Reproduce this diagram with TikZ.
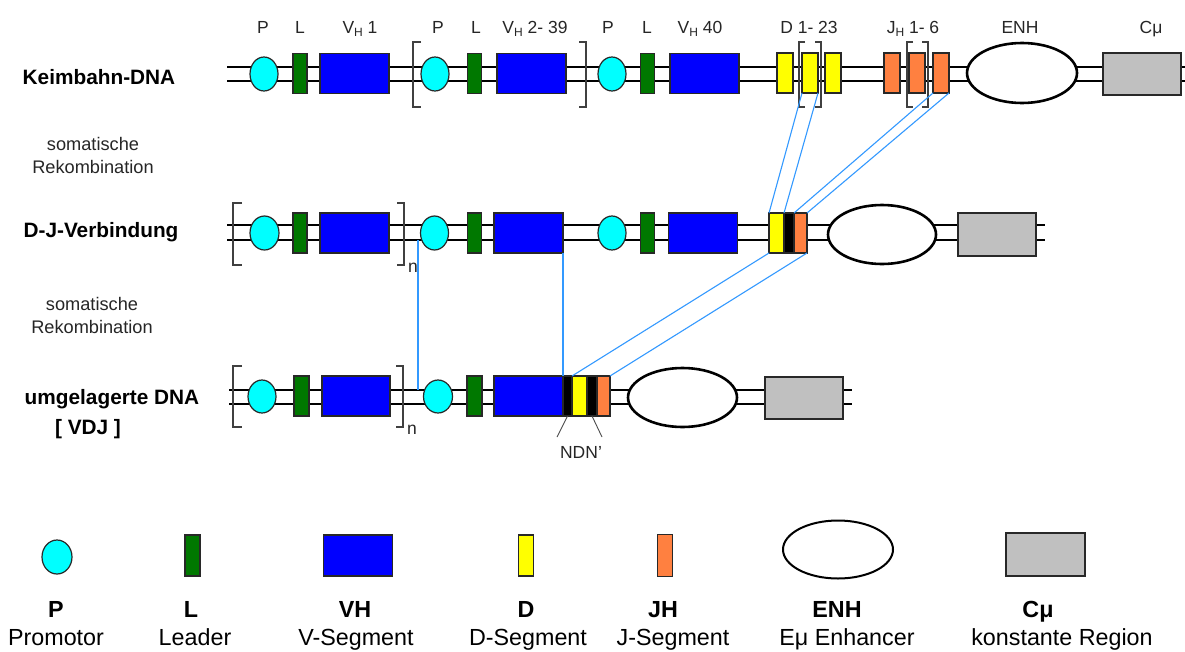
\documentclass[tikz,border=0pt]{standalone}
\usepackage{fontspec}
\setmainfont{Liberation Sans}
\usetikzlibrary{shapes.geometric}

\definecolor{leadgreen}{RGB}{0,120,0}
\definecolor{vblue}{RGB}{0,0,255}
\definecolor{dyellow}{RGB}{255,255,0}
\definecolor{jorange}{RGB}{255,128,64}
\definecolor{cgrey}{RGB}{192,192,192}
\definecolor{promcyan}{RGB}{0,255,255}
\definecolor{linkblue}{RGB}{51,153,255}
\definecolor{outline}{RGB}{40,40,40}

\newcommand{\lowsub}[1]{\raisebox{-0.35ex}{\fontsize{12}{12}\selectfont #1}}

\tikzset{
  seg/.style={draw=outline, line width=1.2pt, inner sep=0pt, outer sep=0pt, rectangle},
  prom/.style={seg, ellipse, fill=promcyan, minimum width=28pt, minimum height=34pt},
  lead/.style={seg, fill=leadgreen, minimum width=14pt, minimum height=40pt},
  vseg/.style={seg, fill=vblue, minimum width=69pt, minimum height=40pt},
  dseg/.style={seg, fill=dyellow, minimum width=16pt, minimum height=40pt},
  jseg/.style={seg, fill=jorange, minimum width=16pt, minimum height=40pt},
  nseg/.style={seg, fill=black, minimum height=40pt},
  enh/.style={draw=black, line width=2.6pt, ellipse, fill=white, inner sep=0pt, outer sep=0pt},
  cmu/.style={seg, fill=cgrey, minimum width=78pt, minimum height=42pt},
  dna/.style={line width=2.6pt, black},
  link/.style={draw=linkblue, line width=1.1pt},
  brk/.style={draw=black!75, line width=1.2pt},
  toplab/.style={font=\fontsize{17.5}{20}\selectfont, text=black!85, inner sep=0pt,
                 text height=12.6pt, text depth=0pt},
  idx/.style={font=\fontsize{17.5}{20}\selectfont, text=black!85, inner sep=0pt},
  rowlab/.style={font=\fontsize{20.8}{23}\selectfont\bfseries, inner sep=0pt},
  sidelab/.style={font=\fontsize{18.2}{23}\selectfont, text=black!85, align=center, inner sep=0pt},
  legbold/.style={font=\fontsize{23.3}{25}\selectfont\bfseries, inner sep=0pt,
                  text height=16.8pt, text depth=0pt},
  legtext/.style={font=\fontsize{23.3}{25}\selectfont, inner sep=0pt,
                  text height=16.8pt, text depth=0pt},
}

\begin{document}
\begin{tikzpicture}[x=1pt,y=-1pt]
\useasboundingbox (0,0) rectangle (1185,651);
\fill[white] (0,0) rectangle (1185,651);

% ---------- row labels ----------
\node[rowlab] (tKeim) at (99,77) {Keimbahn-DNA};
\node[sidelab] (tSom1) at (93,155) {somatische\\Rekombination};
\node[rowlab] (tDJ) at (101,232) {D-J-Verbindung};
\node[sidelab] (tSom2) at (92,315) {somatische\\Rekombination};
\node[rowlab] (tUm) at (112,399) {umgelagerte DNA};
\node[rowlab] (tVDJ) at (88,429) {[ VDJ ]};

% ---------- germline backbone ----------
\draw[dna] (227,67) -- (1185,67);
\draw[dna] (227,81) -- (1185,81);

\node[prom] (P1a) at (264,74) {};
\node[lead] (L1a) at (300,73.5) {};
\node[vseg] (V1a) at (354.5,73.5) {};
\node[prom] (P1b) at (435,74) {};
\node[lead] (L1b) at (474.5,73.5) {};
\node[vseg] (V1b) at (531.5,73.5) {};
\node[prom] (P1c) at (612,74) {};
\node[lead] (L1c) at (647.5,73.5) {};
\node[vseg] (V1c) at (704.5,73.5) {};
\node[dseg] (D1a) at (785,73) {};
\node[dseg] (D1b) at (810,73) {};
\node[dseg] (D1c) at (833,73) {};
\node[jseg] (J1a) at (892,73) {};
\node[jseg] (J1b) at (917,73) {};
\node[jseg] (J1c) at (941,73) {};
\node[enh, minimum width=110pt, minimum height=60pt] (E1) at (1022,73) {};
\node[cmu] (C1) at (1142,74) {};

% brackets of the germline row
\draw[brk] (421,42) -- (413,42) -- (413,107) -- (421,107);
\draw[brk] (579,42) -- (586,42) -- (586,107) -- (579,107);
\draw[brk] (805,42) -- (799,42) -- (799,107) -- (805,107);
\draw[brk] (815,42) -- (821,42) -- (821,107) -- (815,107);
\draw[brk] (913,42) -- (907,42) -- (907,107) -- (913,107);
\draw[brk] (922,42) -- (928,42) -- (928,107) -- (922,107);

% labels above the germline row
\node[toplab] (lP1) at (263,27) {P};
\node[toplab] (lL1) at (300,27) {L};
\node[toplab] (lV1) at (360,27) {V\lowsub{H} 1};
\node[toplab] (lP2) at (438,27) {P};
\node[toplab] (lL2) at (476,27) {L};
\node[toplab] (lV2) at (535,27) {V\lowsub{H} 2- 39};
\node[toplab] (lP3) at (608,27) {P};
\node[toplab] (lL3) at (647,27) {L};
\node[toplab] (lV3) at (700,27) {V\lowsub{H} 40};
\node[toplab] (lD) at (809,27) {D 1- 23};
\node[toplab] (lJ) at (913,27) {J\lowsub{H} 1- 6};
\node[toplab] (lE) at (1020,27) {ENH};
\node[toplab] (lC) at (1151,27) {Cμ};

% ---------- D-J joined row ----------
\draw[dna] (227,225) -- (1045,225);
\draw[dna] (227,240) -- (1045,240);

\node[prom, minimum width=29pt] (P2a) at (264.5,233) {};
\node[lead] (L2a) at (300,233) {};
\node[vseg] (V2a) at (354.5,233) {};
\node[prom] (P2b) at (434.5,233) {};
\node[lead] (L2b) at (474.5,233) {};
\node[vseg] (V2b) at (528.5,233) {};
\node[prom] (P2c) at (612,233) {};
\node[lead] (L2c) at (647.5,233) {};
\node[vseg] (V2c) at (703,233) {};
\node[dseg, minimum width=15pt] (Y2) at (776.5,233) {};
\node[nseg, minimum width=10pt] (K2) at (789,233) {};
\node[jseg, minimum width=13pt] (O2) at (800.5,233) {};
\node[enh, minimum width=108pt, minimum height=59pt] (E2) at (882,234.5) {};
\node[cmu, minimum height=43pt] (C2) at (997,234.5) {};

\draw[brk] (242,203) -- (233,203) -- (233,265) -- (242,265);
\draw[brk] (397,203) -- (404,203) -- (404,265) -- (397,265);
\node[idx] (n2) at (413,268) {n};

% ---------- rearranged row ----------
\draw[dna] (229,390) -- (852,390);
\draw[dna] (229,404) -- (852,404);

\node[prom, minimum height=33pt] (P3a) at (262,396.5) {};
\node[lead, minimum width=15pt] (L3a) at (301.5,396) {};
\node[vseg, minimum width=68pt] (V3a) at (356,396) {};
\node[prom, minimum width=29pt, minimum height=33pt] (P3b) at (438,396.5) {};
\node[lead, minimum width=15pt] (L3b) at (474.5,396) {};
\node[vseg] (V3b) at (528.5,396) {};
\node[nseg, minimum width=9pt] (N3a) at (567.5,396) {};
\node[dseg, minimum width=15pt] (Y3) at (579.5,396) {};
\node[nseg, minimum width=10pt] (N3b) at (592,396) {};
\node[jseg, minimum width=13pt] (O3) at (603.5,396) {};
\node[enh, minimum width=109pt, minimum height=59pt] (E3) at (682.5,397.5) {};
\node[cmu] (C3) at (804,398) {};

\draw[brk] (242,366) -- (233,366) -- (233,427) -- (242,427);
\draw[brk] (396,366) -- (403,366) -- (403,427) -- (396,427);
\node[idx] (n3) at (412,430) {n};

% N-region marks
\node[toplab] (lNDN) at (581,452) {NDN'};
\coordinate (ndnL) at (557,437);
\coordinate (ndnR) at (602,437);
\draw[black!70, line width=0.9pt] (N3a.south) -- (ndnL);
\draw[black!70, line width=0.9pt] (N3b.south) -- (ndnR);

% ---------- recombination links ----------
\draw[link] (D1b.south west) -- (Y2.north west);
\draw[link] (D1b.south east) -- (Y2.north east);
\draw[link] (J1c.south west) -- (O2.north west);
\draw[link] (J1c.south east) -- (O2.north east);

\coordinate (cut2) at (418,240);
\coordinate (cut3) at (418,390);
\draw[link] (cut2) -- (cut3);
\draw[link] (V2b.south east) -- (V3b.north east);
\draw[link] (Y2.south west) -- (Y3.north west);
\draw[link] (O2.south east) -- (O3.north east);

% ---------- legend ----------
\node[prom, minimum width=30pt] (gP) at (57,557) {};
\node[lead, minimum width=15pt, minimum height=41pt] (gL) at (192.5,555.5) {};
\node[vseg, minimum height=41pt] (gV) at (358,555.5) {};
\node[dseg, minimum width=15pt, minimum height=41pt] (gD) at (526,555.5) {};
\node[jseg, minimum width=15pt, minimum height=42pt] (gJ) at (665,555.5) {};
\node[enh, line width=2pt, minimum width=110pt, minimum height=58pt] (gE) at (838,549.5) {};
\node[cmu, minimum width=79pt, minimum height=43pt] (gC) at (1045.5,554.5) {};

\node[legbold] (gPb) at (56,609) {P};
\node[legbold] (gLb) at (191,609) {L};
\node[legbold] (gVb) at (355,609) {VH};
\node[legbold] (gDb) at (526,609) {D};
\node[legbold] (gJb) at (663,609) {JH};
\node[legbold] (gEb) at (837,609) {ENH};
\node[legbold] (gCb) at (1038,609) {Cμ};

\node[legtext] (gPt) at (56,637) {Promotor};
\node[legtext] (gLt) at (195,637) {Leader};
\node[legtext] (gVt) at (356,637) {V-Segment};
\node[legtext] (gDt) at (528,637) {D-Segment};
\node[legtext] (gJt) at (673,637) {J-Segment};
\node[legtext] (gEt) at (847,637) {Eμ Enhancer};
\node[legtext] (gCt) at (1062,637) {konstante Region};
\end{tikzpicture}
\end{document}
